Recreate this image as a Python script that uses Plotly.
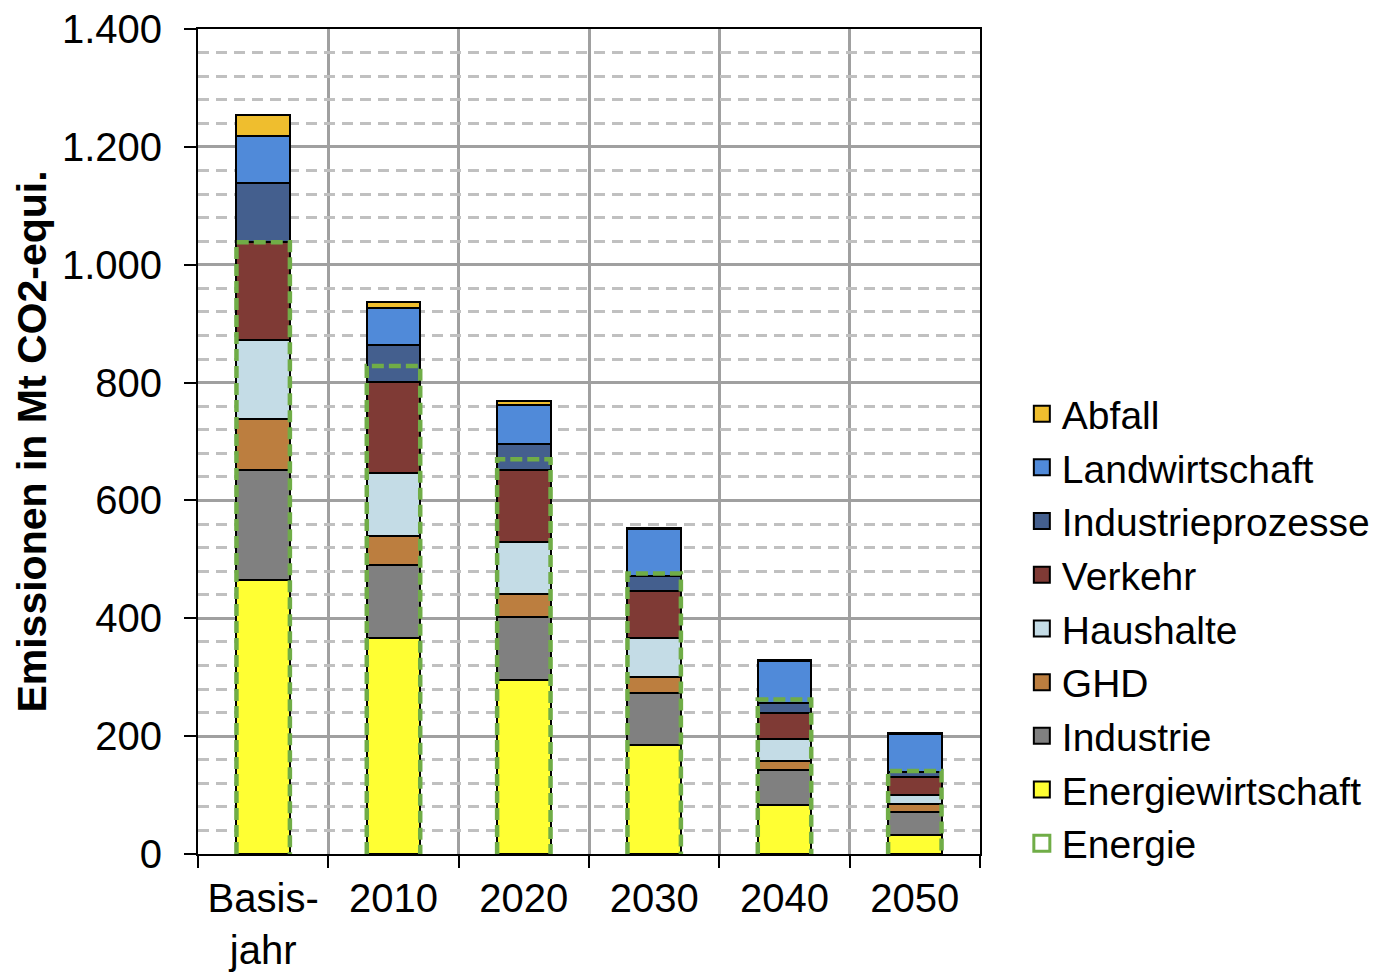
import plotly.graph_objects as go

# Emissionen nach Sektoren, Mt CO2-Äquivalent
jahre = ["Basis-<br>jahr", "2010", "2020", "2030", "2040", "2050"]

energiewirtschaft = [465, 366, 296, 185, 83, 33]
industrie = [187, 124, 107, 89, 60, 39]
ghd = [87, 50, 39, 27, 15, 13]
haushalte = [133, 107, 88, 65, 37, 15]
verkehr = [167, 154, 122, 81, 44, 31]
industrieprozesse = [100, 63, 44, 25, 17, 8]
landwirtschaft = [79, 62, 66, 79, 71, 64]
abfall = [36, 11, 7, 2, 2, 2]
energie = [1038, 828, 670, 476, 262, 141]

sektoren = [
    ("Energiewirtschaft", energiewirtschaft, "#FFFF33"),
    ("Industrie", industrie, "#808080"),
    ("GHD", ghd, "#BC7E3F"),
    ("Haushalte", haushalte, "#C4DCE6"),
    ("Verkehr", verkehr, "#7F3A35"),
    ("Industrieprozesse", industrieprozesse, "#445F8E"),
    ("Landwirtschaft", landwirtschaft, "#508AD9"),
    ("Abfall", abfall, "#EFBE2E"),
]
energie_farbe = "#70AD47"

FONT = "Liberation Sans, Arial, sans-serif"
pos = list(range(len(jahre)))
breite = 0.41

fig = go.Figure()

for name, werte, farbe in sektoren:
    fig.add_trace(go.Bar(
        x=pos, y=werte, width=breite, name=name,
        marker=dict(color=farbe, line=dict(color="black", width=2)),
        showlegend=False,
    ))

# gestrichelter Rahmen für den Sektor Energie
ex, ey = [], []
for p, e in zip(pos, energie):
    links, rechts = p - breite / 2, p + breite / 2
    ex += [links, links, rechts, rechts, None]
    ey += [0, e, e, 0, None]
fig.add_trace(go.Scatter(
    x=ex, y=ey, mode="lines", showlegend=False, hoverinfo="skip",
    line=dict(color=energie_farbe, width=4.5, dash="12px,5px"),
))

# Legendeneinträge
n = len(sektoren)
for rang, (name, werte, farbe) in enumerate(reversed(sektoren)):
    fig.add_trace(go.Scatter(
        x=[None], y=[None], mode="markers", name=name, legendrank=rang + 1,
        marker=dict(symbol="square", size=16, color=farbe,
                    line=dict(color="black", width=2)),
    ))
fig.add_trace(go.Scatter(
    x=[None], y=[None], mode="markers", name="Energie", legendrank=n + 1,
    marker=dict(symbol="square-open", size=16, color=energie_farbe,
                line=dict(color=energie_farbe, width=3)),
))

grenzen = [p - 0.5 for p in pos] + [pos[-1] + 0.5]

fig.update_layout(
    width=1391, height=972,
    margin=dict(l=198, r=411, t=29, b=118),
    barmode="stack",
    plot_bgcolor="white", paper_bgcolor="white",
    separators=",.",
    font=dict(family=FONT, size=40, color="black"),
    legend=dict(
        x=1.0535, xanchor="left", y=0.273, yanchor="middle",
        traceorder="normal",
        font=dict(family=FONT, size=39, color="black"),
        bgcolor="rgba(0,0,0,0)", itemwidth=30,
    ),
    xaxis=dict(
        range=[grenzen[0], grenzen[-1]], automargin=False,
        tickmode="array", tickvals=pos, ticktext=jahre,
        ticks="", showgrid=False, zeroline=False, ticklabelstandoff=8,
        showline=True, linecolor="black", linewidth=2, mirror=True,
        tickfont=dict(family=FONT, size=40, color="black"),
        minor=dict(tickmode="array", tickvals=grenzen, ticks="outside",
                   ticklen=12, tickwidth=2, tickcolor="black",
                   showgrid=True, gridcolor="#A0A0A0", gridwidth=2.5),
    ),
    yaxis=dict(
        range=[0, 1400], tick0=0, dtick=200, automargin=False,
        separatethousands=True, ticklabelstandoff=14,
        ticks="outside", ticklen=12, tickwidth=2, tickcolor="black",
        showgrid=True, gridcolor="#A0A0A0", gridwidth=2.5, zeroline=False,
        showline=True, linecolor="black", linewidth=2, mirror=True,
        tickfont=dict(family=FONT, size=40, color="black"),
        minor=dict(tick0=0, dtick=40, showgrid=True, gridcolor="#C0C0C0",
                   gridwidth=2.5, griddash="11px,7px", ticks=""),
        title=dict(text="Emissionen in Mt CO2-equi.", standoff=3,
                   font=dict(family=FONT, size=41, color="black", weight="bold")),
    ),
)

fig.write_html("out.html")
